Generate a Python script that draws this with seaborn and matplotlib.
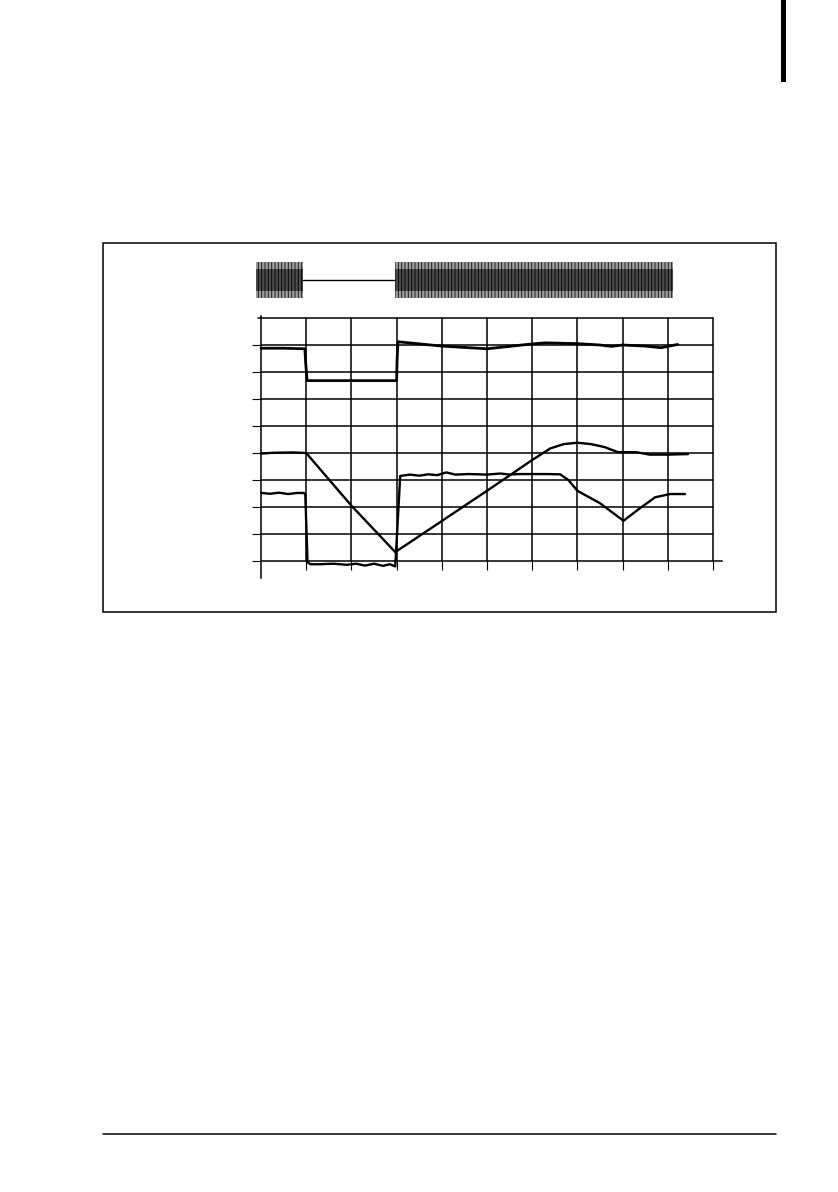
import numpy as np
import pandas as pd
import seaborn as sns
import matplotlib.pyplot as plt
from matplotlib.patches import Rectangle
from matplotlib.lines import Line2D

# Data (x in grid divisions 0..10, y in grid divisions 0..9)
top_x = [0, 0.5, 0.97, 0.99, 1.02, 2.0, 3.0, 3.01, 3.03, 4.0, 5.0, 5.5, 6.0, 6.3,
         7.0, 7.5, 7.75, 8.0, 8.5, 8.85, 9.0, 9.22]
top_y = [7.88, 7.88, 7.86, 7.3, 6.68, 6.68, 6.68, 7.4, 8.12, 7.96, 7.86, 7.95, 8.04, 8.08,
         8.05, 8.0, 7.95, 8.0, 7.96, 7.9, 7.95, 8.02]

ramp_x = [0, 0.3, 0.7, 1.0, 2.0, 2.97, 4.0, 5.07, 6.0, 6.4, 6.7, 7.0, 7.3, 7.6, 7.9,
          8.3, 8.6, 9.0, 9.45]
ramp_y = [3.98, 4.01, 4.02, 4.0, 2.05, 0.33, 1.48, 2.68, 3.74, 4.17, 4.33, 4.38, 4.33, 4.22,
          4.03, 4.03, 3.94, 3.94, 3.96]

wave_x = [0, 0.2, 0.4, 0.6, 0.8, 0.95, 0.98, 1.03, 1.1, 1.3, 1.6, 1.9, 2.1, 2.3, 2.5,
          2.7, 2.85, 2.97, 3.08, 3.3, 3.5, 3.7, 3.9, 4.1, 4.3, 4.6, 5.0, 5.3, 5.5, 5.7,
          6.0, 6.3, 6.62, 6.8, 7.0, 7.5, 8.02, 8.38, 8.72, 9.05, 9.38]
wave_y = [2.52, 2.49, 2.53, 2.48, 2.52, 2.52, 2.45, -0.05, -0.12, -0.12, -0.1, -0.14,
          -0.1, -0.17, -0.1, -0.18, -0.12, -0.2, 3.15, 3.2, 3.16, 3.21, 3.18, 3.28, 3.2,
          3.22, 3.2, 3.24, 3.2, 3.22, 3.22, 3.22, 3.21, 3.0, 2.6, 2.14, 1.49, 1.95, 2.36,
          2.48, 2.48]

# switching signal bursts on top trace
burst_start = [-0.11, 2.96]
burst_end = [0.93, 9.12]
idle_start = 0.93
idle_end = 2.96

sns.set_theme(style="white")
plt.rcParams['hatch.linewidth'] = 0.6

W, H = 838, 1192
fig = plt.figure(figsize=(W / 100, H / 100), dpi=100)

def fx(px):
    return px / W

def fy(py):
    return 1 - py / H

# frame around the figure area
fig.add_artist(Rectangle((fx(103), fy(612)), fx(776) - fx(103), fy(243) - fy(612),
                         transform=fig.transFigure, fill=False, edgecolor='black', lw=1.1))
# footer rule and page tab
fig.add_artist(Line2D([fx(103), fx(776)], [fy(1134), fy(1134)], transform=fig.transFigure,
                      color='black', lw=1.1))
fig.add_artist(Rectangle((fx(781), fy(82)), fx(786) - fx(781), fy(0) - fy(82),
                         transform=fig.transFigure, color='black', lw=0))

# main grid chart
ax = fig.add_axes([fx(261), fy(561), fx(713) - fx(261), fy(318) - fy(561)])
ax.set_xlim(0, 10)
ax.set_ylim(0, 9)
for v in range(1, 11):
    ax.plot([v, v], [0, 9], color='black', lw=1.1, clip_on=False)
for h in range(1, 10):
    ax.plot([0, 10], [h, h], color='black', lw=1.1, clip_on=False)
ax.plot([-0.07, 0], [9, 9], color='black', lw=1.1, clip_on=False)

sns.lineplot(x=top_x, y=top_y, ax=ax, color='black', lw=2.0, sort=False, estimator=None)
sns.lineplot(x=ramp_x, y=ramp_y, ax=ax, color='black', lw=1.7, sort=False, estimator=None)
sns.lineplot(x=wave_x, y=wave_y, ax=ax, color='black', lw=1.7, sort=False, estimator=None)
for ln in ax.get_lines():
    ln.set_clip_on(False)

for s in ['top', 'right']:
    ax.spines[s].set_visible(False)
ax.spines['left'].set_bounds(-0.63, 9.07)
ax.spines['bottom'].set_bounds(0, 10.2)
for s in ['left', 'bottom']:
    ax.spines[s].set_color('black')
    ax.spines[s].set_linewidth(1.1)
ax.set_xticks(range(1, 11))
ax.set_yticks(range(0, 9))
ax.set_xticklabels([])
ax.set_yticklabels([])
ax.tick_params(axis='both', direction='out', length=6.5, width=0.8, color='black',
               bottom=True, left=True)
ax.set_xlabel('')
ax.set_ylabel('')

# switching signal trace
ax2 = fig.add_axes([fx(261), fy(305), fx(713) - fx(261), fy(255) - fy(305)])
ax2.set_xlim(0, 10)
ax2.set_ylim(-1.4, 1.4)
ax2.axis('off')
for a, b in zip(burst_start, burst_end):
    xs = [a, b]
    ax2.fill_between(xs, [-1, -1], [1, 1], facecolor='#9c9c9c', edgecolor='#111111',
                     hatch='|||||', lw=0, clip_on=False)
    ax2.fill_between(xs, [-0.6, -0.6], [0.6, 0.6], facecolor='#4a4a4a', edgecolor='black',
                     hatch='|||||', lw=0, clip_on=False)
ax2.plot([idle_start, idle_end], [0, 0], color='black', lw=1.0)

fig.savefig('out.png', dpi=100)
